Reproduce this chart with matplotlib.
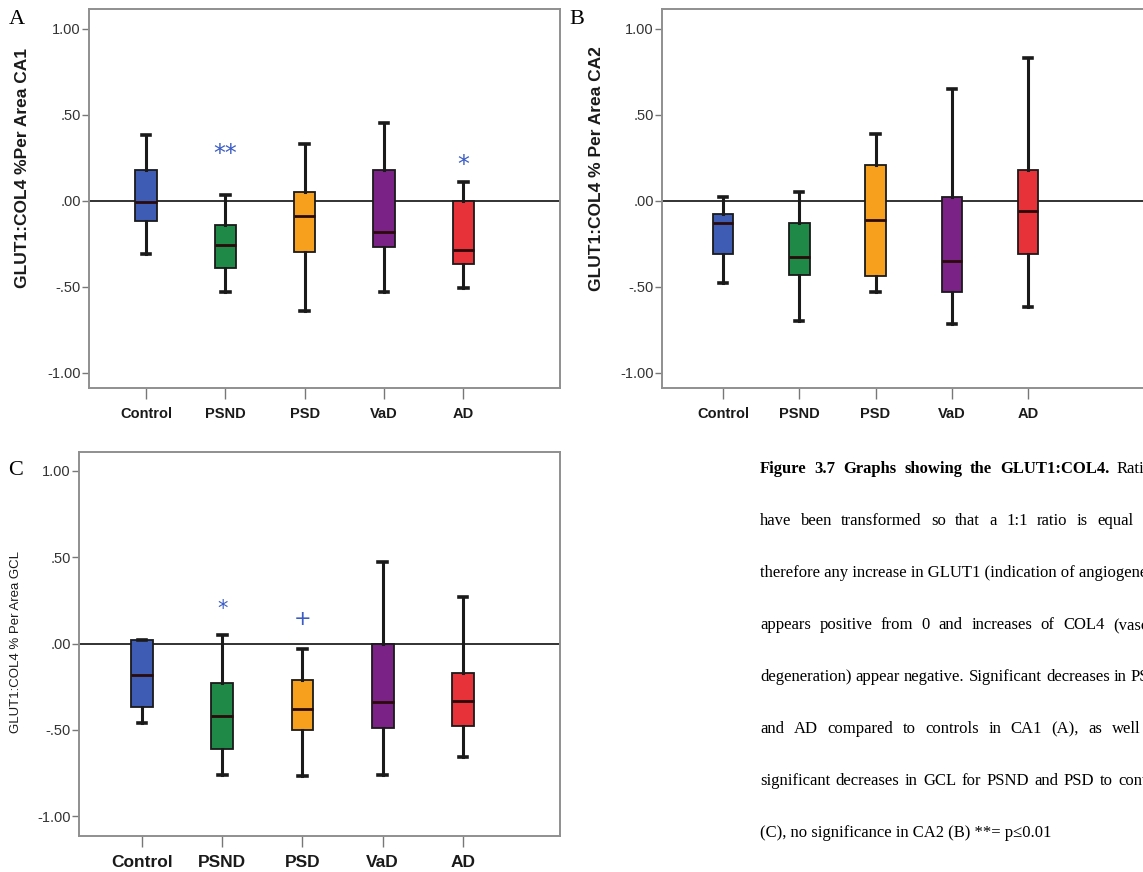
import matplotlib
matplotlib.use("Agg")
import matplotlib.pyplot as plt
from matplotlib.ticker import FixedLocator, FixedFormatter

# ---------------- data ----------------
groups = ["Control", "PSND", "PSD", "VaD", "AD"]
box_colors = ["#3f5cb5", "#1f8a48", "#f7a01e", "#7a2285", "#e8323a"]

ca1_whishi = [0.38, 0.03, 0.33, 0.45, 0.11]
ca1_q3 = [0.18, -0.14, 0.05, 0.18, 0.00]
ca1_med = [-0.01, -0.26, -0.09, -0.18, -0.29]
ca1_q1 = [-0.12, -0.39, -0.30, -0.27, -0.37]
ca1_whislo = [-0.31, -0.53, -0.64, -0.53, -0.51]

ca2_whishi = [0.02, 0.05, 0.39, 0.65, 0.83]
ca2_q3 = [-0.08, -0.13, 0.21, 0.02, 0.18]
ca2_med = [-0.13, -0.33, -0.11, -0.35, -0.06]
ca2_q1 = [-0.31, -0.43, -0.44, -0.53, -0.31]
ca2_whislo = [-0.48, -0.70, -0.53, -0.72, -0.62]

gcl_whishi = [0.02, 0.05, -0.03, 0.47, 0.27]
gcl_q3 = [0.02, -0.23, -0.21, 0.00, -0.17]
gcl_med = [-0.18, -0.42, -0.38, -0.34, -0.33]
gcl_q1 = [-0.37, -0.61, -0.50, -0.49, -0.48]
gcl_whislo = [-0.46, -0.76, -0.77, -0.76, -0.66]

ytick_values = [1.0, 0.5, 0.0, -0.5, -1.0]
ytick_labels = ["1.00", ".50", ".00", "-.50", "-1.00"]

# significance markers: (group index, y, symbol)
ca1_marks = [(1, 0.27, "**"), (4, 0.21, "*")]
gcl_marks = [(1, 0.20, "*"), (2, 0.14, "+")]

caption_lines = [
    ([("Figure", "bold"), ("3.7", "bold"), ("Graphs", "bold"), ("showing", "bold"),
      ("the", "bold"), ("GLUT1:COL4.", "bold"), ("Ratios", "normal")], 1117),
    ([(w, "normal") for w in "have been transformed so that a 1:1 ratio is equal".split()], 1097),
    ([(w, "normal") for w in "therefore any increase in GLUT1 (indication of angiogenesis)".split()], None),
    ([(w, "normal") for w in "appears positive from 0 and increases of COL4 (vascular".split()], 1113),
    ([(w, "normal") for w in "degeneration) appear negative. Significant decreases in PSND".split()], 1131),
    ([(w, "normal") for w in "and AD compared to controls in CA1 (A), as well".split()], 1112),
    ([(w, "normal") for w in "significant decreases in GCL for PSND and PSD to controls".split()], 1118),
    ([(w, "normal") for w in "(C), no significance in CA2 (B) **= p\u22640.01".split()], None),
]

# ---------------- figure ----------------
W, H = 1143, 872
fig = plt.figure(figsize=(W / 100, H / 100), dpi=100)
fig.patch.set_facecolor("white")


def px_axes(x0, y0, x1, y1):
    return fig.add_axes([x0 / W, 1 - y1 / H, (x1 - x0) / W, (y1 - y0) / H])


def draw_panel(ax, whislo, q1, med, q3, whishi, ylabel, ylab_size, ylab_weight,
               xlim, ylim, xlab_size, ylab_xy):
    stats = []
    for i, g in enumerate(groups):
        stats.append(dict(label=g, whislo=whislo[i], q1=q1[i], med=med[i],
                          q3=q3[i], whishi=whishi[i], fliers=[]))
    pos = list(range(1, len(groups) + 1))
    ax.axhline(0, color="#222222", lw=1.3, zorder=1)
    bp = ax.bxp(stats, positions=pos, widths=0.27, patch_artist=True,
                showfliers=False, capwidths=0.11,
                boxprops=dict(edgecolor="#1a1a1a", linewidth=1.3),
                whiskerprops=dict(color="#1a1a1a", linewidth=2.2),
                capprops=dict(color="#1a1a1a", linewidth=2.6),
                medianprops=dict(color="#2a0a0a", linewidth=2.0),
                manage_ticks=False, zorder=3)
    for patch, c in zip(bp["boxes"], box_colors):
        patch.set_facecolor(c)
    ax.set_xlim(*xlim)
    ax.set_ylim(*ylim)
    ax.yaxis.set_major_locator(FixedLocator(ytick_values))
    ax.yaxis.set_major_formatter(FixedFormatter(ytick_labels))
    ax.xaxis.set_major_locator(FixedLocator(pos))
    ax.xaxis.set_major_formatter(FixedFormatter(groups))
    for s in ax.spines.values():
        s.set_color("#8f8f8f")
        s.set_linewidth(1.4)
    ax.tick_params(axis="y", length=5, width=1, color="#777777", pad=1,
                   labelsize=10.5, labelcolor="#333333")
    ax.tick_params(axis="x", length=8, width=1, color="#777777", pad=6,
                   labelsize=xlab_size, labelcolor="#1a1a1a")
    for t in ax.get_yticklabels():
        t.set_family("Liberation Sans")
    for t in ax.get_xticklabels():
        t.set_family("Liberation Sans")
        t.set_fontweight("bold")
    ax.set_ylabel(ylabel, fontsize=ylab_size, fontweight=ylab_weight,
                  family="Liberation Sans", color="#1a1a1a")
    ax.yaxis.set_label_coords(*ylab_xy)


# Panel A
axA = px_axes(89, 9, 560, 388)
draw_panel(axA, ca1_whislo, ca1_q1, ca1_med, ca1_q3, ca1_whishi,
           "GLUT1:COL4 %Per Area CA1", 12.5, "bold", (0.28, 6.22), (-1.09, 1.115),
           10.5, (-0.125, 0.58))
# Panel B
axB = px_axes(662, 9, 1144, 388)
draw_panel(axB, ca2_whislo, ca2_q1, ca2_med, ca2_q3, ca2_whishi,
           "GLUT1:COL4 % Per Area CA2", 12.5, "bold", (0.2, 6.52), (-1.09, 1.115),
           10.5, (-0.12, 0.58))
# Panel C
axC = px_axes(79, 452, 560, 836)
draw_panel(axC, gcl_whislo, gcl_q1, gcl_med, gcl_q3, gcl_whishi,
           "GLUT1:COL4 % Per Area GCL", 9.5, "normal", (0.215, 6.21), (-1.115, 1.11),
           12.5, (-0.118, 0.505))

star_color = "#3b5cc4"
for gi, yv, sym in ca1_marks:
    axA.text(gi + 1, yv, sym, ha="center", va="center", fontsize=17,
             color=star_color, family="DejaVu Sans", zorder=4)
for gi, yv, sym in gcl_marks:
    axC.text(gi + 1, yv, sym, ha="center", va="center", fontsize=15,
             color=star_color, family="DejaVu Sans", zorder=4)

# panel letters
for lab, x, y in [("A", 9, 20), ("B", 569, 20), ("C", 8, 470)]:
    fig.text(x / W, 1 - y / H, lab, fontsize=16, family="Liberation Serif",
             ha="left", va="center")

# caption, justified lines
renderer = fig.canvas.get_renderer()
cap_size = 12
x_left = 760
line_y = [469, 521, 573, 625, 677, 729, 781, 833]
for (words, last_x), y in zip(caption_lines, line_y):
    if last_x is None:
        fig.text(x_left / W, 1 - y / H, " ".join(w for w, _ in words),
                 fontsize=cap_size, family="Liberation Serif", ha="left", va="center")
        continue
    objs = []
    widths = []
    for w, wt in words:
        t = fig.text(0, 1 - y / H, w, fontsize=cap_size, family="Liberation Serif",
                     fontweight=wt, ha="left", va="center")
        objs.append(t)
        widths.append(t.get_window_extent(renderer).width)
    n = len(words)
    gap = (last_x - x_left - sum(widths[:-1])) / (n - 1)
    x = x_left
    for t, wd in zip(objs, widths):
        t.set_x(x / W)
        x += wd + gap

fig.savefig("out.png", dpi=100, facecolor="white")
